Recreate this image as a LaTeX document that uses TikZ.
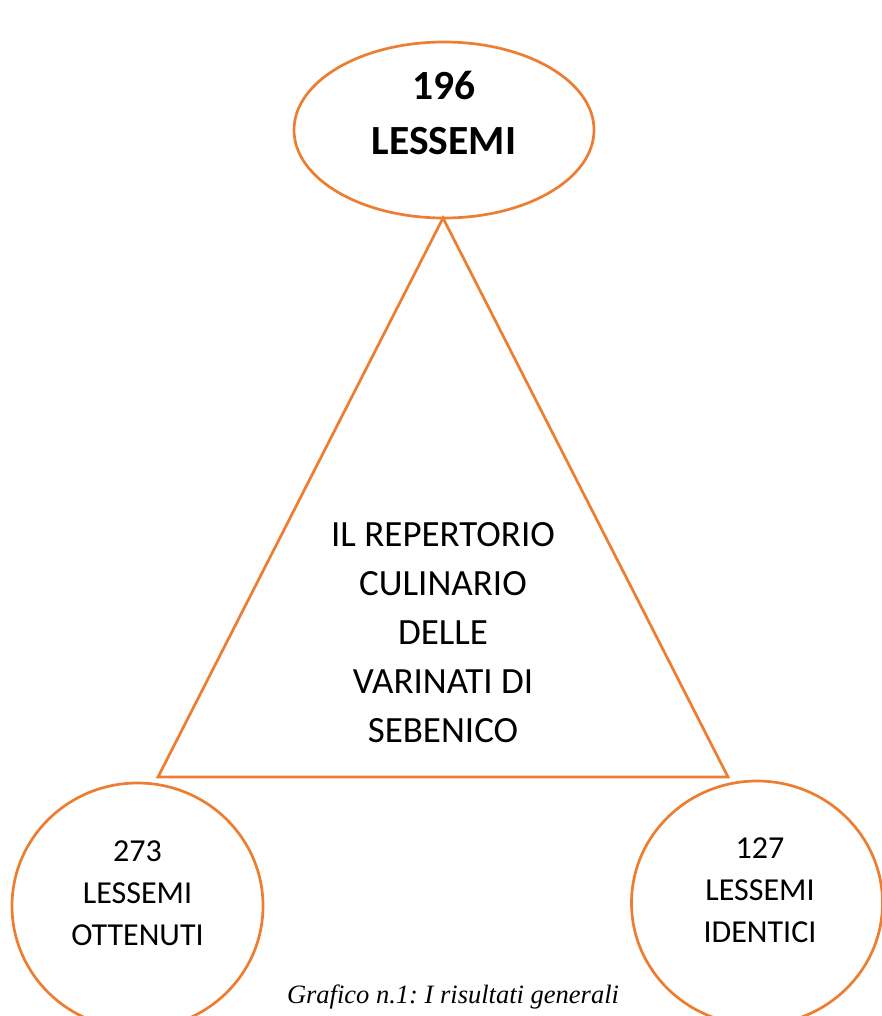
\documentclass[tikz,border=0pt]{standalone}
\usepackage{fontspec}
\setmainfont{Carlito}
\newfontfamily\capfont{Liberation Serif}
\usetikzlibrary{shapes.geometric}
\definecolor{orng}{HTML}{ED7D31}
\frenchspacing
\tikzset{
  shapeline/.style={draw=orng, line width=2.7pt},
  oval/.style={shapeline, ellipse, inner sep=0pt},
  bigtxt/.style={align=center, font=\fontsize{41.5}{55}\selectfont\bfseries, inner sep=0pt},
  midtxt/.style={align=center, font=\fontsize{37}{49}\selectfont, inner sep=0pt},
  smalltxt/.style={align=center, font=\fontsize{32}{42}\selectfont, inner sep=0pt},
  captxt/.style={font=\capfont\itshape\fontsize{26.5}{30}\selectfont, inner sep=0pt}
}
\begin{document}
\begin{tikzpicture}[x=1pt,y=-1pt]
\useasboundingbox (0,0) rectangle (882,1016);
\clip (0,0) rectangle (882,1016);
\fill[white] (0,0) rectangle (882,1016);
% top ellipse
\node[oval, minimum width=300pt, minimum height=176pt] (top) at (444,130) {};
\node[bigtxt] (toptxt) at (444,113) {196\\LESSEMI};
% triangle
\coordinate (apex) at (443,218);
\coordinate (bl) at (158,777);
\coordinate (br) at (728,777);
\draw[shapeline, line join=miter] (apex) -- (bl) -- (br) -- cycle;
\node[midtxt] (tritxt) at (443,633) {IL REPERTORIO\\CULINARIO\\DELLE\\VARINATI DI\\SEBENICO};
% bottom circles
\node[oval, minimum width=251pt, minimum height=246pt] (left) at (137.5,906) {};
\node[smalltxt] (lefttxt) at (137.5,893) {273\\LESSEMI\\OTTENUTI};
\node[oval, minimum width=251pt, minimum height=244pt] (right) at (757,903) {};
\node[smalltxt] (righttxt) at (760,890) {127\\LESSEMI\\IDENTICI};
% caption
\node[captxt] (cap) at (453,997) {Grafico n.1: I risultati generali};
\end{tikzpicture}
\end{document}
